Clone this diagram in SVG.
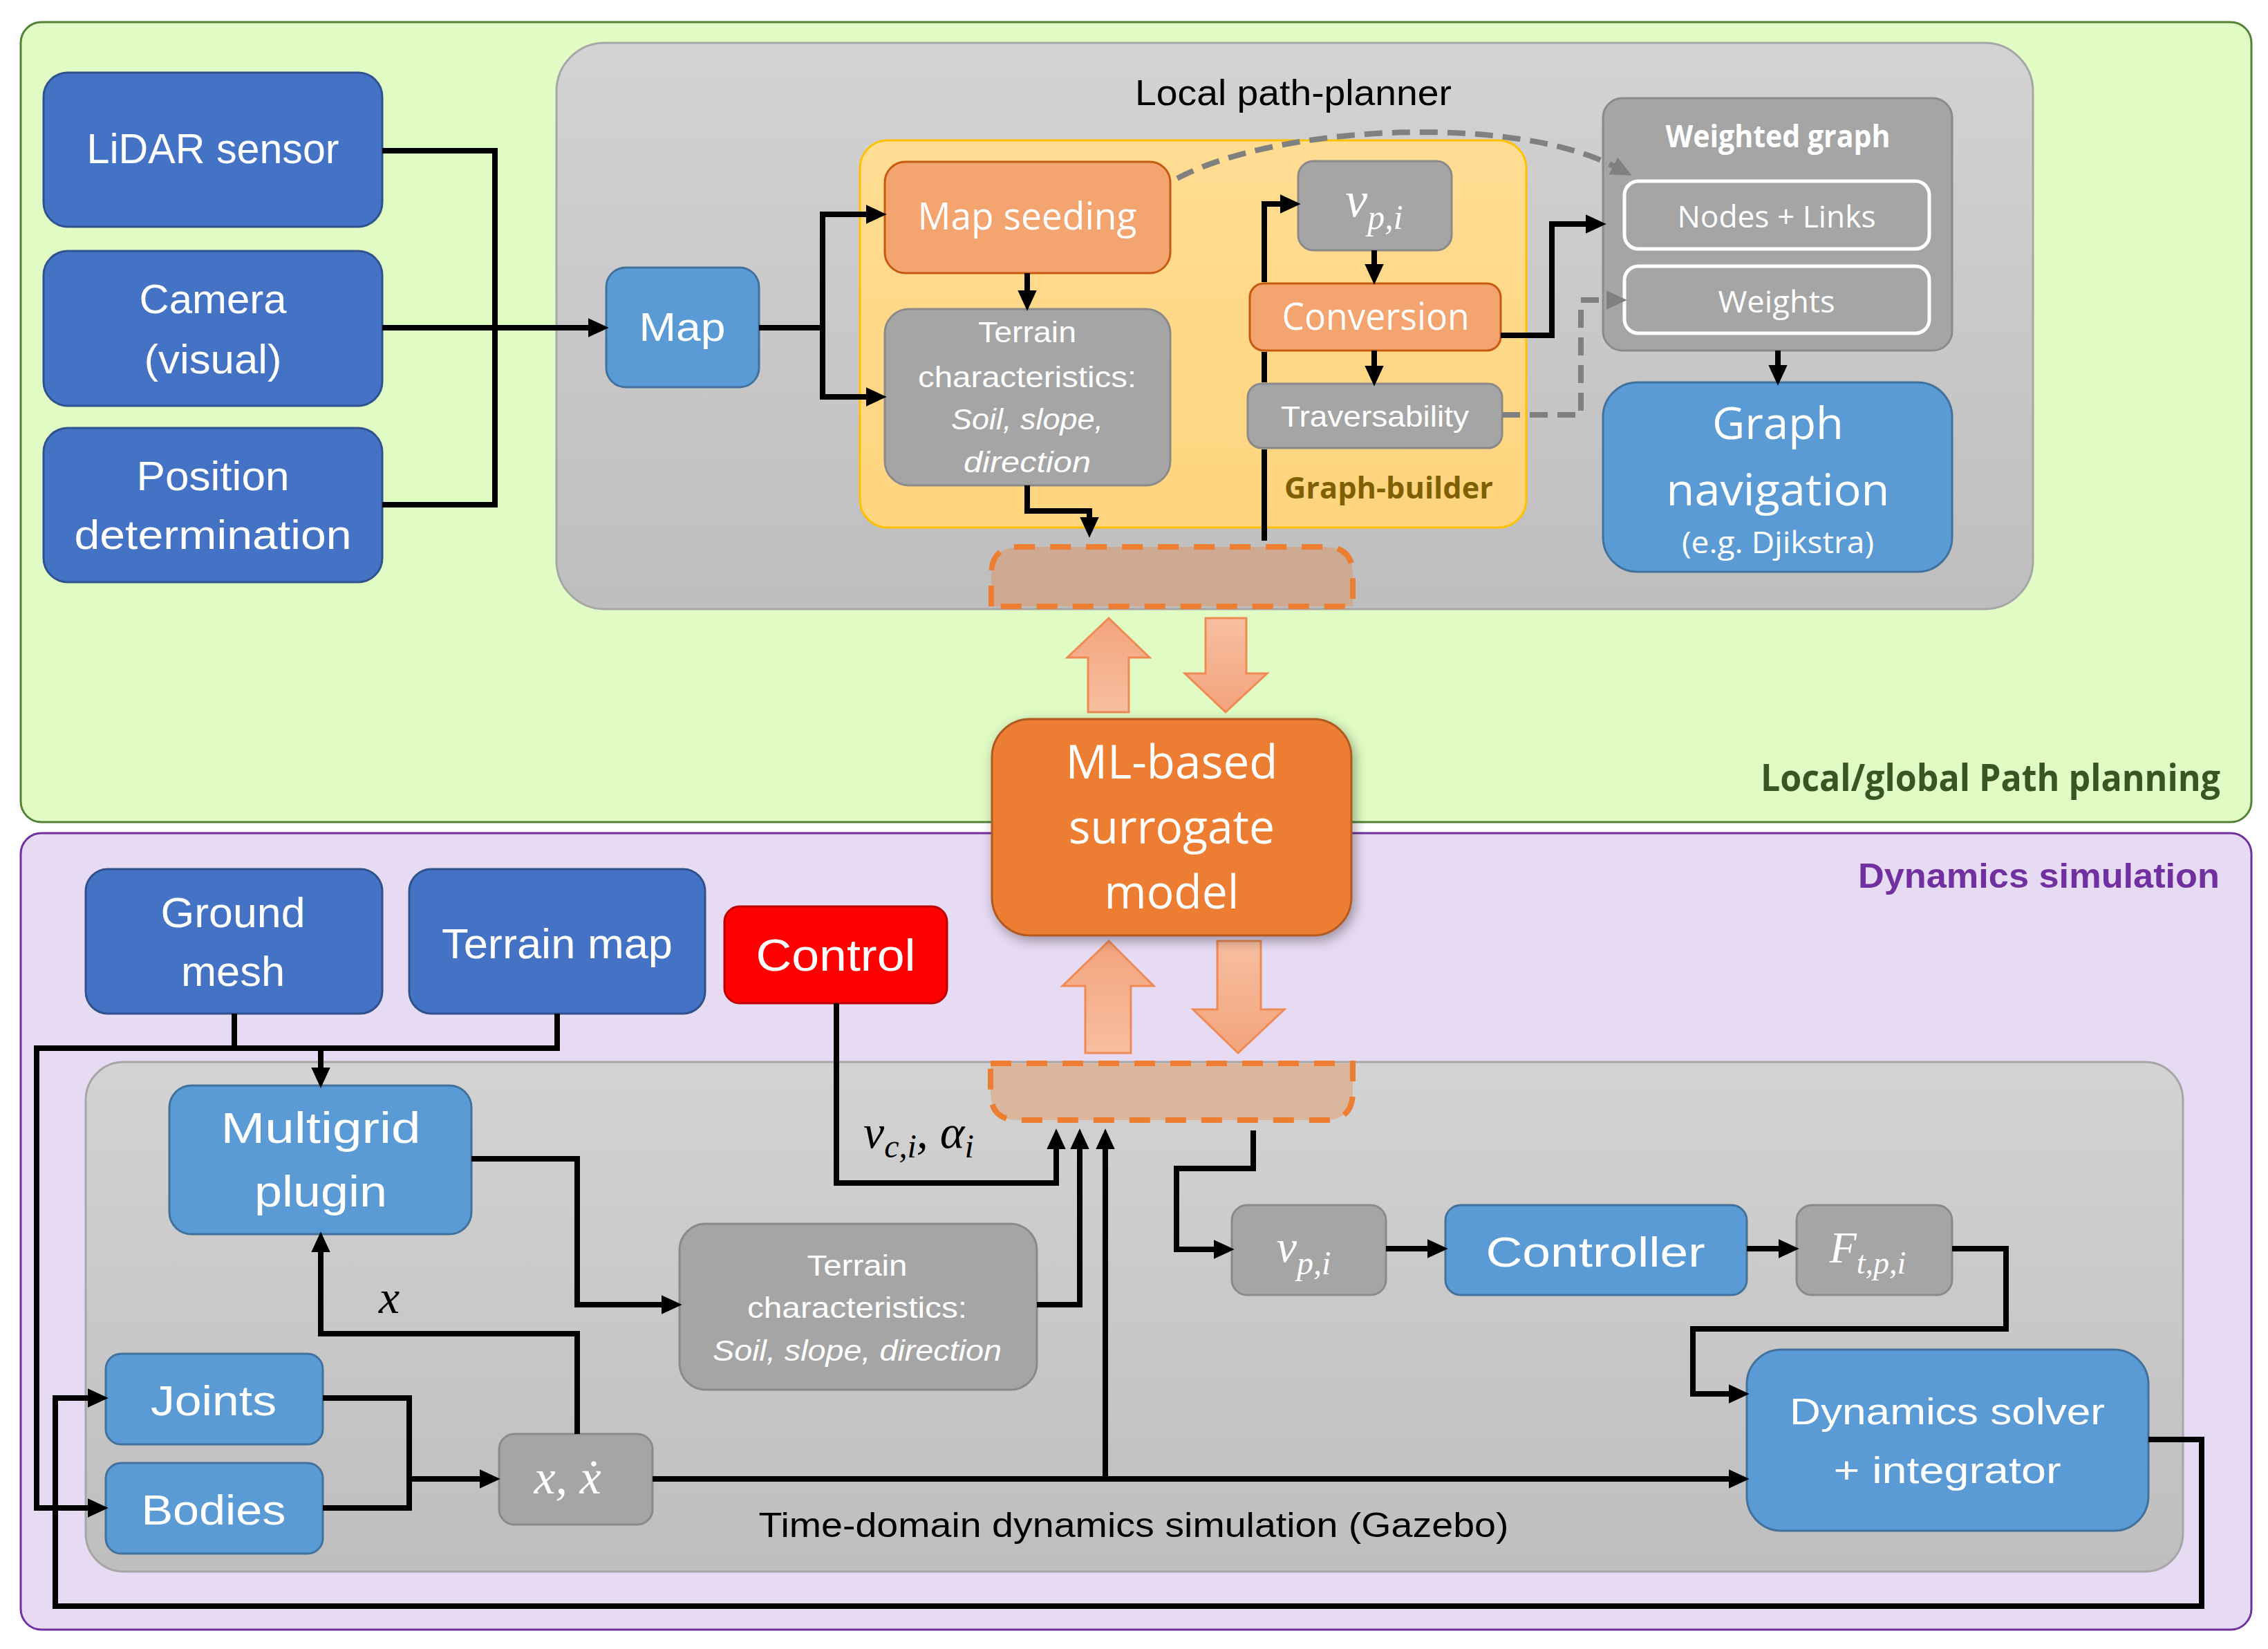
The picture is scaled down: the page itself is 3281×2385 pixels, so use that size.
<svg xmlns="http://www.w3.org/2000/svg" width="3281" height="2385" viewBox="0 0 3281 2385">
<style>
.bd{fill:#4472C4;stroke:#2F528F;stroke-width:3}
.bl{fill:#5B9BD5;stroke:#41719C;stroke-width:3}
.gr{fill:#A5A5A5;stroke:#8A8A8A;stroke-width:3}
.or{fill:#F4A46F;stroke:#C55A11;stroke-width:3}
.wb{fill:none;stroke:#FFFFFF;stroke-width:5}
.t{fill:#FFFFFF;text-anchor:middle}
.k{fill:#000000;text-anchor:middle}
.cal{font-family:"Liberation Sans",Arial,sans-serif}
.seg{font-family:"Open Sans","Liberation Sans",sans-serif}
.m{font-family:"Liberation Serif","DejaVu Serif",serif;font-style:italic}
.ln{fill:none;stroke:#000;stroke-width:8;stroke-linejoin:miter}
.la{fill:none;stroke:#000;stroke-width:8;stroke-linejoin:miter;marker-end:url(#ah)}
.ld{fill:none;stroke:#808080;stroke-width:8;stroke-dasharray:26 14;marker-end:url(#ag)}
.blk{stroke:#F08A55;stroke-width:3}
.dsh{stroke:#ED7D31;stroke-width:8;stroke-dasharray:30 22}
</style>
<defs>
<marker id="ah" markerUnits="userSpaceOnUse" markerWidth="30" markerHeight="30" viewBox="0 0 26 24" refX="2" refY="12" orient="auto">
<path d="M0,0 L26,12 L0,24 z" fill="#000"/>
</marker>
<marker id="ag" markerUnits="userSpaceOnUse" markerWidth="30" markerHeight="30" viewBox="0 0 26 24" refX="2" refY="12" orient="auto">
<path d="M0,0 L26,12 L0,24 z" fill="#808080"/>
</marker>
<linearGradient id="gpan" x1="0" y1="0" x2="0" y2="1">
<stop offset="0" stop-color="#D3D3D3"/><stop offset="1" stop-color="#BEBEBE"/>
</linearGradient>
<linearGradient id="gyel" x1="0" y1="0" x2="0" y2="1">
<stop offset="0" stop-color="#FFDD93"/><stop offset="1" stop-color="#FFD47E"/>
</linearGradient>
<linearGradient id="gup" x1="0" y1="1" x2="0" y2="0">
<stop offset="0" stop-color="#F7BEA0"/><stop offset="1" stop-color="#F3A47C"/>
</linearGradient>
<linearGradient id="gdn" x1="0" y1="0" x2="0" y2="1">
<stop offset="0" stop-color="#F7BEA0"/><stop offset="1" stop-color="#F3A47C"/>
</linearGradient>
<filter id="sh" x="-20%" y="-20%" width="140%" height="150%">
<feDropShadow dx="4" dy="6" stdDeviation="9" flood-color="#000" flood-opacity="0.35"/>
</filter>
</defs>

<g id="panel-path-planning">
<rect x="30" y="32" width="3227" height="1157" rx="30" fill="#E0FCC4" stroke="#538135" stroke-width="3"/>
<text x="3212" y="1144" class="seg" font-weight="bold" font-size="54" fill="#375623" text-anchor="end" textLength="665" lengthAdjust="spacingAndGlyphs">Local/global Path planning</text>
</g>
<g id="panel-dynamics">
<rect x="30" y="1205" width="3227" height="1152" rx="30" fill="#E7DAF3" stroke="#7030A0" stroke-width="3"/>
<text x="3211" y="1284" class="cal" font-weight="bold" font-size="50" fill="#7030A0" text-anchor="end" textLength="523" lengthAdjust="spacingAndGlyphs">Dynamics simulation</text>
</g>
<g id="local-path-planner">
<rect x="805" y="62" width="2136" height="819" rx="70" fill="url(#gpan)" stroke="#A6A6A6" stroke-width="3"/>
<text x="1871" y="152" class="cal k" font-size="52" textLength="458" lengthAdjust="spacingAndGlyphs">Local path-planner</text>
</g>
<g id="graph-builder">
<rect x="1244" y="203" width="964" height="560" rx="40" fill="url(#gyel)" stroke="#FFC000" stroke-width="3"/>
<text x="2009" y="721" class="seg" font-weight="bold" font-size="43" fill="#7F6000" text-anchor="middle" textLength="302" lengthAdjust="spacingAndGlyphs">Graph-builder</text>
</g>
<g id="sim-panel">
<rect x="124" y="1536" width="3034" height="737" rx="55" fill="url(#gpan)" stroke="#A6A6A6" stroke-width="3"/>
<text x="1640" y="2223" class="cal k" font-size="50" textLength="1085" lengthAdjust="spacingAndGlyphs">Time-domain dynamics simulation (Gazebo)</text>
</g>

<g id="lidar">
<rect class="bd" x="63" y="105" width="490" height="223" rx="35"/>
<text class="cal t" x="308" y="236" font-size="61" textLength="365" lengthAdjust="spacingAndGlyphs">LiDAR sensor</text>
</g>
<g id="camera">
<rect class="bd" x="63" y="363" width="490" height="224" rx="35"/>
<text class="cal t" x="308" y="453" font-size="60" textLength="213" lengthAdjust="spacingAndGlyphs">Camera</text>
<text class="cal t" x="308" y="540" font-size="60" textLength="199" lengthAdjust="spacingAndGlyphs">(visual)</text>
</g>
<g id="position">
<rect class="bd" x="63" y="619" width="490" height="223" rx="35"/>
<text class="cal t" x="308" y="709" font-size="60" textLength="221" lengthAdjust="spacingAndGlyphs">Position</text>
<text class="cal t" x="308" y="794" font-size="60" textLength="401" lengthAdjust="spacingAndGlyphs">determination</text>
</g>
<g id="map">
<rect class="bl" x="877" y="387" width="221" height="173" rx="28"/>
<text class="cal t" x="987" y="493" font-size="58" textLength="125" lengthAdjust="spacingAndGlyphs">Map</text>
</g>
<g id="map-seeding">
<rect class="or" x="1280" y="234" width="413" height="161" rx="30"/>
<text class="seg t" x="1486" y="332" font-size="54" textLength="317" lengthAdjust="spacingAndGlyphs">Map seeding</text>
</g>
<g id="terrain-top">
<rect class="gr" x="1280" y="447" width="413" height="255" rx="35"/>
<text class="cal t" x="1486" y="495" font-size="43" textLength="142" lengthAdjust="spacingAndGlyphs">Terrain</text>
<text class="cal t" x="1486" y="560" font-size="43" textLength="316" lengthAdjust="spacingAndGlyphs">characteristics:</text>
<text class="cal t" x="1486" y="621" font-size="43" font-style="italic" textLength="220" lengthAdjust="spacingAndGlyphs">Soil, slope,</text>
<text class="cal t" x="1486" y="683" font-size="43" font-style="italic" textLength="184" lengthAdjust="spacingAndGlyphs">direction</text>
</g>
<g id="vpi-top">
<rect class="gr" x="1878" y="233" width="222" height="129" rx="22"/>
<text class="m t" x="1988" y="313" font-size="72">v<tspan font-size="50" dy="18">p,i</tspan></text>
</g>
<g id="conversion">
<rect class="or" x="1808" y="410" width="363" height="97" rx="20"/>
<text class="seg t" x="1990" y="477" font-size="54" textLength="271" lengthAdjust="spacingAndGlyphs">Conversion</text>
</g>
<g id="traversability">
<rect class="gr" x="1805" y="555" width="368" height="93" rx="20"/>
<text class="cal t" x="1989" y="617" font-size="43" textLength="272" lengthAdjust="spacingAndGlyphs">Traversability</text>
</g>
<g id="weighted-graph">
<rect class="gr" x="2319" y="142" width="505" height="365" rx="28"/>
<text class="seg t" x="2572" y="213" font-size="44" font-weight="bold" textLength="325" lengthAdjust="spacingAndGlyphs">Weighted graph</text>
<rect class="wb" x="2350" y="262" width="441" height="98" rx="20"/>
<text class="seg t" x="2570" y="329" font-size="44" textLength="287" lengthAdjust="spacingAndGlyphs">Nodes + Links</text>
<rect class="wb" x="2350" y="385" width="441" height="97" rx="20"/>
<text class="seg t" x="2570" y="452" font-size="44" textLength="169" lengthAdjust="spacingAndGlyphs">Weights</text>
</g>
<g id="graph-navigation">
<rect class="bl" x="2319" y="553" width="505" height="274" rx="50"/>
<text class="seg t" x="2572" y="635" font-size="64" textLength="190" lengthAdjust="spacingAndGlyphs">Graph</text>
<text class="seg t" x="2572" y="731" font-size="64" textLength="323" lengthAdjust="spacingAndGlyphs">navigation</text>
<text class="seg t" x="2572" y="800" font-size="44" textLength="278" lengthAdjust="spacingAndGlyphs">(e.g. Djikstra)</text>
</g>

<g id="interface-top">
<path d="M1434,877 V831 Q1434,791 1474,791 H1917 Q1957,791 1957,831 V877 Z" fill="#CFAA92" class="dsh"/>
</g>
<g id="interface-bottom">
<path d="M1433,1538 H1957 V1580 Q1957,1620 1917,1620 H1473 Q1433,1620 1433,1580 Z" fill="#DBB69D" class="dsh"/>
</g>

<g id="block-arrows">
<polygon class="blk" fill="url(#gup)" points="1574,1030 1574,951 1544,951 1604,894 1663,951 1633,951 1633,1030"/>
<polygon class="blk" fill="url(#gdn)" points="1744,894 1803,894 1803,974 1833,974 1773,1030 1714,974 1744,974"/>
<polygon class="blk" fill="url(#gup)" points="1570,1523 1570,1426 1537,1426 1604,1361 1669,1426 1636,1426 1636,1523"/>
<polygon class="blk" fill="url(#gdn)" points="1761,1361 1824,1361 1824,1460 1858,1460 1791,1523 1726,1460 1761,1460"/>
</g>

<g id="ml-model">
<rect x="1435" y="1040" width="520" height="313" rx="55" fill="#ED7D31" stroke="#AE5A21" stroke-width="3" filter="url(#sh)"/>
<text class="seg t" x="1695" y="1126" font-size="68" textLength="307" lengthAdjust="spacingAndGlyphs">ML-based</text>
<text class="seg t" x="1695" y="1220" font-size="68" textLength="298" lengthAdjust="spacingAndGlyphs">surrogate</text>
<text class="seg t" x="1695" y="1314" font-size="68" textLength="195" lengthAdjust="spacingAndGlyphs">model</text>
</g>

<g id="ground-mesh">
<rect class="bd" x="124" y="1257" width="429" height="209" rx="32"/>
<text class="cal t" x="337" y="1341" font-size="62" textLength="209" lengthAdjust="spacingAndGlyphs">Ground</text>
<text class="cal t" x="337" y="1426" font-size="62" textLength="150" lengthAdjust="spacingAndGlyphs">mesh</text>
</g>
<g id="terrain-map">
<rect class="bd" x="592" y="1257" width="428" height="209" rx="32"/>
<text class="cal t" x="806" y="1386" font-size="62" textLength="334" lengthAdjust="spacingAndGlyphs">Terrain map</text>
</g>
<g id="control">
<rect x="1048" y="1311" width="322" height="140" rx="22" fill="#FF0000" stroke="#C00000" stroke-width="3"/>
<text class="cal t" x="1209" y="1404" font-size="64" textLength="231" lengthAdjust="spacingAndGlyphs">Control</text>
</g>
<g id="multigrid">
<rect class="bl" x="245" y="1570" width="437" height="215" rx="32"/>
<text class="cal t" x="464" y="1653" font-size="63" textLength="289" lengthAdjust="spacingAndGlyphs">Multigrid</text>
<text class="cal t" x="464" y="1745" font-size="63" textLength="192" lengthAdjust="spacingAndGlyphs">plugin</text>
</g>
<g id="terrain-bottom">
<rect class="gr" x="983" y="1770" width="517" height="240" rx="38"/>
<text class="cal t" x="1240" y="1845" font-size="43" textLength="145" lengthAdjust="spacingAndGlyphs">Terrain</text>
<text class="cal t" x="1240" y="1906" font-size="43" textLength="318" lengthAdjust="spacingAndGlyphs">characteristics:</text>
<text class="cal t" x="1240" y="1968" font-size="43" font-style="italic" textLength="418" lengthAdjust="spacingAndGlyphs">Soil, slope, direction</text>
</g>
<g id="control-label">
<text class="m" x="1249" y="1660" font-size="68" fill="#000">v<tspan font-size="48" dy="14">c,i</tspan><tspan dy="-14">, α</tspan><tspan font-size="48" dy="14">i</tspan></text>
</g>
<g id="x-label">
<text class="m k" x="563" y="1899" font-size="68">x</text>
</g>
<g id="joints">
<rect class="bl" x="153" y="1958" width="314" height="131" rx="22"/>
<text class="cal t" x="309" y="2047" font-size="62" textLength="182" lengthAdjust="spacingAndGlyphs">Joints</text>
</g>
<g id="bodies">
<rect class="bl" x="153" y="2116" width="314" height="131" rx="22"/>
<text class="cal t" x="309" y="2205" font-size="62" textLength="209" lengthAdjust="spacingAndGlyphs">Bodies</text>
</g>
<g id="state">
<rect class="gr" x="722" y="2074" width="222" height="131" rx="22"/>
<text class="m t" x="821" y="2160" font-size="70">x, ẋ</text>
</g>
<g id="vpi-bottom">
<rect class="gr" x="1782" y="1743" width="223" height="130" rx="22"/>
<text class="m t" x="1886" y="1825" font-size="66">v<tspan font-size="48" dy="18">p,i</tspan></text>
</g>
<g id="controller">
<rect class="bl" x="2091" y="1743" width="436" height="130" rx="22"/>
<text class="cal t" x="2308" y="1832" font-size="62" textLength="317" lengthAdjust="spacingAndGlyphs">Controller</text>
</g>
<g id="force">
<rect class="gr" x="2599" y="1743" width="225" height="130" rx="22"/>
<text class="m t" x="2702" y="1826" font-size="64">F<tspan font-size="46" dy="16">t,p,i</tspan></text>
</g>
<g id="dynamics-solver">
<rect class="bl" x="2527" y="1952" width="581" height="262" rx="50"/>
<text class="cal t" x="2817" y="2060" font-size="54" textLength="456" lengthAdjust="spacingAndGlyphs">Dynamics solver</text>
<text class="cal t" x="2817" y="2145" font-size="54" textLength="329" lengthAdjust="spacingAndGlyphs">+ integrator</text>
</g>

<g id="connectors">
<path class="ln" d="M553,218 H716 V730 H553"/>
<path class="la" d="M553,474 H853"/>
<path class="ln" d="M1098,474 H1190 M1190,306 V578"/>
<path class="la" d="M1186,310 H1255"/>
<path class="la" d="M1186,574 H1255"/>
<path class="la" d="M1486,395 V422"/>
<path class="la" d="M1486,702 V739 H1576 V750"/>
<path class="ln" d="M1829,782 V650 M1829,553 V509"/>
<path class="la" d="M1829,408 V295 H1854"/>
<path class="la" d="M1988,362 V384"/>
<path class="la" d="M1988,507 V531"/>
<path class="la" d="M2171,485 H2245 V324 H2296"/>
<path class="la" d="M2572,507 V530"/>
<path class="ld" d="M1703,258 C1850,180 2190,165 2336,241"/>
<path class="ld" d="M2173,600 H2287 V434 H2326"/>

<path class="ln" d="M339,1466 V1516 M806,1466 V1516 M49,1516 H810"/>
<path class="la" d="M464,1516 V1546"/>
<path class="la" d="M53,1516 V2181 H129"/>
<path class="la" d="M3108,2082 H3185 V2323 H80 V2022 H129"/>
<path class="ln" d="M467,2022 H592 V2181 H467"/>
<path class="la" d="M592,2139 H696"/>
<path class="la" d="M835,2074 V1929 H464 V1809"/>
<path class="la" d="M682,1676 H835 V1887 H959"/>
<path class="la" d="M1500,1887 H1562 V1660"/>
<path class="la" d="M1210,1451 V1711 H1528 V1660"/>
<path class="la" d="M944,2139 H2503"/>
<path class="la" d="M1599,2139 V1660"/>
<path class="la" d="M1813,1635 V1690 H1702 V1807 H1758"/>
<path class="la" d="M2005,1806 H2067"/>
<path class="la" d="M2527,1806 H2575"/>
<path class="la" d="M2824,1806 H2902 V1922 H2449 V2016 H2503"/>
</g>
</svg>
